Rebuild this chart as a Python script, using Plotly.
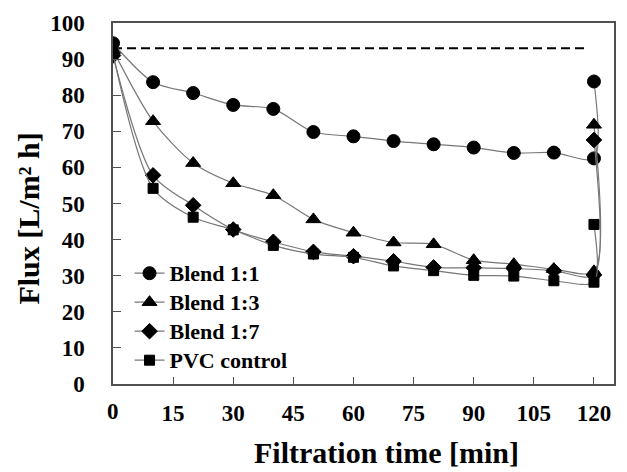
import plotly.graph_objects as go

# ---- data ----
time_min = [0, 10, 20, 30, 40, 50, 60, 70, 80, 90, 100, 110, 120, 120]
blend_1_1 = [94.4, 83.6, 80.6, 77.3, 76.2, 69.8, 68.6, 67.3, 66.4, 65.5, 64.0, 64.1, 62.5, 83.8]
blend_1_3 = [92.5, 72.8, 61.2, 55.6, 52.3, 45.6, 41.9, 39.2, 38.7, 34.3, 33.2, 31.8, 31.2, 71.8]
blend_1_7 = [91.0, 57.8, 49.5, 42.8, 39.4, 36.6, 35.4, 34.0, 32.3, 32.2, 32.0, 31.4, 30.2, 67.6]
pvc_control = [91.5, 54.2, 46.2, 42.7, 38.4, 36.0, 35.1, 32.7, 31.4, 30.1, 29.9, 28.6, 28.2, 44.2]

ref_x = [0, 118]
ref_y = [93, 93]

x_ticks = [15, 30, 45, 60, 75, 90, 105, 120]
x_tick_labels = ["15", "30", "45", "60", "75", "90", "105", "120"]
y_ticks = [0, 10, 20, 30, 40, 50, 60, 70, 80, 90, 100]

series_names = ["Blend 1:1", "Blend 1:3", "Blend 1:7", "PVC control"]
series_values = [blend_1_1, blend_1_3, blend_1_7, pvc_control]
series_symbols = ["circle", "triangle-up", "diamond", "square"]
series_sizes = [13, 13, 12, 10]

FONT = "Liberation Serif, Times New Roman, serif"
AXIS_COLOR = "#505050"

fig = go.Figure()

fig.add_trace(go.Scatter(
    x=ref_x, y=ref_y, mode="lines", showlegend=False, hoverinfo="skip",
    line=dict(color="black", width=2, dash="9px,5px"),
))

for name, vals, sym, size in zip(series_names, series_values, series_symbols, series_sizes):
    fig.add_trace(go.Scatter(
        x=time_min, y=vals, mode="lines+markers",
        name='<span style="font-size:22px">' + name + "</span>",
        line=dict(color="#777777", width=1.2, shape="spline", smoothing=0.8),
        marker=dict(symbol=sym, size=size, color="black",
                    line=dict(color="black", width=1)),
    ))

fig.update_layout(
    width=627, height=472,
    margin=dict(l=113, r=11, t=16, b=88),
    paper_bgcolor="white", plot_bgcolor="white",
    font=dict(family=FONT, color="black"),
    legend=dict(
        x=0.033, y=0.361, xanchor="left", yanchor="top",
        bgcolor="rgba(0,0,0,0)",
        font=dict(family=FONT, size=20, color="black", weight="bold"),
        tracegroupgap=0, itemwidth=30,
    ),
)

fig.update_xaxes(
    range=[0, 125], tickvals=x_ticks, ticktext=x_tick_labels,
    ticks="inside", ticklen=7, tickwidth=1, tickcolor=AXIS_COLOR,
    showline=True, linecolor=AXIS_COLOR, linewidth=1.5, mirror=True,
    showgrid=False, zeroline=False,
    tickfont=dict(family=FONT, size=23, color="black", weight="bold"),
    ticklabelstandoff=8,
)
fig.update_yaxes(
    range=[0, 100], tickvals=y_ticks,
    ticks="inside", ticklen=8, tickwidth=1, tickcolor=AXIS_COLOR,
    showline=True, linecolor=AXIS_COLOR, linewidth=1.5, mirror=True,
    showgrid=False, zeroline=False,
    tickfont=dict(family=FONT, size=23, color="black", weight="bold"),
    ticklabelstandoff=22,
)

# x-axis label "0" sits at the origin in the reference
fig.add_annotation(
    x=0, y=0, xref="x", yref="paper", text="<b>0</b>", showarrow=False,
    xanchor="center", yanchor="middle",
    yshift=-27, font=dict(family=FONT, size=23, color="black"),
)

fig.add_annotation(
    x=388, y=454, xref="paper", yref="paper", text="<b>Filtration time [min]</b>",
    showarrow=False, font=dict(family=FONT, size=30, color="black"),
    xanchor="center", yanchor="middle",
)
fig.add_annotation(
    x=28, y=215, xref="paper", yref="paper", text="<b>Flux [L/m² h]</b>",
    showarrow=False, textangle=-90, font=dict(family=FONT, size=30, color="black"),
    xanchor="center", yanchor="middle",
)

# convert pixel positions of the two title annotations to paper coords
pw, ph = 627 - 113 - 11, 472 - 16 - 88
for ann in fig.layout.annotations[1:]:
    px, py = ann.x, ann.y
    ann.x = (px - 113) / pw
    ann.y = (472 - 88 - py) / ph

fig.write_html("out.html")
